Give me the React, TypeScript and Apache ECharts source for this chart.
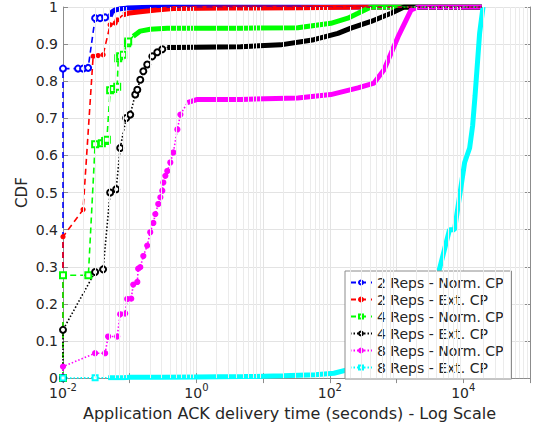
import React, { useEffect, useRef } from "react";
import * as echarts from "echarts";

const FONT = "DejaVu Sans, Liberation Sans, sans-serif";
const TXT = "#262626";

// ---- data ----
const SERIES_NAMES = [
  "2 Reps - Norm. CP",
  "2 Reps - Ext. CP",
  "4 Reps - Norm. CP",
  "4 Reps - Ext. CP",
  "8 Reps - Norm. CP",
  "8 Reps - Ext. CP",
];

const blueX = [0.01, 0.01, 0.0168, 0.02, 0.0238, 0.0303, 0.036, 0.0428, 0.0509, 0.0545, 0.0606, 0.072, 0.09, 0.12, 0.2, 0.4, 1, 19000];
const blueY = [0, 0.834, 0.834, 0.834, 0.836, 0.97, 0.97, 0.972, 0.975, 0.987, 0.992, 0.995, 0.997, 0.998, 0.999, 1, 1, 1];

const redX = [0.01, 0.01, 0.02, 0.0283, 0.0336, 0.0399, 0.0509, 0.0606, 0.0648, 0.0798, 0.1, 0.144, 0.25, 0.45, 3.24, 36.6, 324, 19000];
const redY = [0, 0.381, 0.454, 0.867, 0.869, 0.871, 0.952, 0.957, 0.965, 0.979, 0.984, 0.987, 0.992, 0.996, 0.997, 0.998, 1, 1];

const greenX = [0.01, 0.01, 0.024, 0.0303, 0.0382, 0.0428, 0.0454, 0.0509, 0.0565, 0.0649, 0.0673, 0.072, 0.0798, 0.0917, 0.0949, 0.113, 0.13, 0.144, 0.203, 0.366, 0.812, 4.6, 33, 103.5, 186, 264, 414, 19000];
const greenY = [0, 0.277, 0.277, 0.63, 0.633, 0.639, 0.642, 0.776, 0.779, 0.785, 0.862, 0.867, 0.871, 0.902, 0.907, 0.921, 0.929, 0.935, 0.94, 0.943, 0.943, 0.943, 0.944, 0.956, 0.97, 0.983, 1, 1];

const blackX = [0.01, 0.01, 0.0303, 0.0399, 0.0509, 0.0627, 0.072, 0.0886, 0.1018, 0.121, 0.13, 0.144, 0.16, 0.183, 0.218, 0.259, 0.308, 0.366, 0.5, 4.59, 18.3, 57.5, 132, 207, 414, 826, 1297, 19000];
const blackY = [0, 0.13, 0.286, 0.293, 0.5, 0.509, 0.62, 0.701, 0.71, 0.764, 0.777, 0.804, 0.827, 0.845, 0.867, 0.878, 0.886, 0.891, 0.891, 0.893, 0.898, 0.912, 0.929, 0.943, 0.961, 0.983, 1, 1];

const magX = [0.01, 0.01, 0.0303, 0.0428, 0.0475, 0.0649, 0.072, 0.0855, 0.0917, 0.1054, 0.113, 0.13, 0.134, 0.144, 0.16, 0.183, 0.203, 0.226, 0.242, 0.268, 0.288, 0.308, 0.319, 0.342, 0.366, 0.406, 0.451, 0.518, 0.575, 0.732, 1.035, 4.59, 33, 103.5, 264, 459, 649, 1054, 1652, 2104, 19000];
const magY = [0, 0.031, 0.067, 0.067, 0.112, 0.112, 0.172, 0.174, 0.213, 0.214, 0.252, 0.259, 0.295, 0.299, 0.329, 0.357, 0.393, 0.418, 0.442, 0.469, 0.487, 0.505, 0.527, 0.545, 0.558, 0.581, 0.608, 0.67, 0.71, 0.742, 0.751, 0.751, 0.755, 0.764, 0.782, 0.795, 0.831, 0.92, 0.992, 1, 1];

const cyanX = [0.01, 0.0303, 0.0475, 0.06, 0.08, 0.1, 0.3, 1, 5, 20, 60, 115, 229, 292, 826, 1965, 3300, 4160, 6220, 7400, 10480, 12450, 13800, 15000, 17580, 19770];
const cyanY = [0, 0.001, 0.001, 0.001, 0.001, 0.002, 0.002, 0.003, 0.004, 0.006, 0.009, 0.013, 0.027, 0.035, 0.07, 0.13, 0.2, 0.277, 0.4, 0.4, 0.581, 0.62, 0.68, 0.76, 0.93, 1];

const yTicks = [0, 0.1, 0.2, 0.3, 0.4, 0.5, 0.6, 0.7, 0.8, 0.9, 1];
const decadeExps = [-2, -1, 0, 1, 2, 3, 4];
const minorMult = [2, 3, 4, 5, 6, 7, 8, 9];

const zip = (xs: number[], ys: number[]) => xs.map((x, i) => [x, ys[i]]);

function makeSeries(
  name: string,
  xs: number[],
  ys: number[],
  color: string,
  dash: number[],
  symbol: string,
  symbolSize: number,
  denseFrom: number
) {
  const pts = zip(xs, ys);
  return [
    {
      name: name + " dense",
      type: "line",
      data: pts.filter((p) => p[0] >= denseFrom),
      showSymbol: false,
      symbol: "none",
      lineStyle: { color, width: 5, type: "solid" },
      itemStyle: { color },
      silent: true,
      z: 2,
    },
    {
      name,
      type: "line",
      data: pts.map((p) => (p[0] >= denseFrom ? { value: p, symbol: "none" } : { value: p })),
      symbol,
      symbolSize,
      showAllSymbol: true,
      lineStyle: { color, width: 1.6, type: dash },
      itemStyle: { color, borderColor: color, borderWidth: 1.2 },
      z: 3,
    },
  ];
}

export default function App() {
  const ref = useRef<HTMLDivElement>(null);
  useEffect(() => {
    if (!ref.current) return;
    const chart = echarts.init(ref.current, null, { renderer: "svg" });

    const minorLines: any[] = [];
    decadeExps.forEach((e) =>
      minorMult.forEach((m) => minorLines.push({ xAxis: m * Math.pow(10, e) }))
    );

    const dashed = [6, 4];
    const dotted = [1.5, 2];

    const series: any[] = [
      {
        name: "minor-grid",
        type: "line",
        data: [[0.01, 0]],
        symbol: "none",
        lineStyle: { opacity: 0 },
        silent: true,
        z: 1,
        markLine: {
          silent: true,
          symbol: "none",
          label: { show: false },
          lineStyle: { color: "#ebebeb", width: 1, type: "solid" },
          data: minorLines,
          animation: false,
        },
      },
      ...makeSeries(SERIES_NAMES[0], blueX, blueY, "#0000ff", dashed, "emptyCircle", 6, 0.05),
      ...makeSeries(SERIES_NAMES[1], redX, redY, "#ff0000", dashed, "circle", 4, 0.075),
      ...makeSeries(SERIES_NAMES[2], greenX, greenY, "#00ff00", dashed, "emptyRect", 6, 0.1),
      ...makeSeries(SERIES_NAMES[3], blackX, blackY, "#000000", dotted, "emptyCircle", 6, 0.35),
      ...makeSeries(SERIES_NAMES[4], magX, magY, "#ff00ff", dotted, "circle", 5, 0.7),
      ...makeSeries(SERIES_NAMES[5], cyanX, cyanY, "#00ffff", dotted, "emptyRect", 5, 0.04),
    ];

    const axisLineStyle = { color: "#8c8c8c", width: 1 };

    chart.setOption({
      animation: false,
      backgroundColor: "#ffffff",
      textStyle: { fontFamily: FONT },
      grid: { left: 63, right: 6, top: 7, bottom: 46, containLabel: false },
      legend: {
        data: SERIES_NAMES,
        orient: "vertical",
        left: 345,
        top: 271,
        itemWidth: 22,
        itemHeight: 5,
        itemGap: 0,
        padding: [3, 8, 3, 4],
        backgroundColor: "#ffffff",
        borderColor: "#8c8c8c",
        borderWidth: 1,
        borderRadius: 0,
        selectedMode: false,
        textStyle: {
          fontSize: 14,
          lineHeight: 17,
          color: TXT,
          fontFamily: FONT,
          padding: [0, 0, 0, 0],
        },
      },
      xAxis: [
        {
          type: "log",
          logBase: 10,
          min: 0.01,
          max: 100000,
          name: "Application ACK delivery time (seconds) - Log Scale",
          nameLocation: "middle",
          nameGap: 22,
          nameTextStyle: { fontSize: 16, color: TXT, fontFamily: FONT, padding: [0, 14, 0, 0] },
          axisLine: { show: true, lineStyle: axisLineStyle },
          axisTick: { show: true, inside: true, length: 5, lineStyle: axisLineStyle },
          splitLine: { show: true, lineStyle: { color: "#e3e3e3", width: 1 } },
          axisLabel: {
            margin: 4,
            formatter: (v: number) => {
              const e = Math.round(Math.log10(v));
              return e % 2 === 0 ? `{b|10}{s|${e}}` : "";
            },
            rich: {
              b: { fontSize: 14, color: TXT, fontFamily: FONT, verticalAlign: "bottom", lineHeight: 18 },
              s: { fontSize: 10, color: TXT, fontFamily: FONT, verticalAlign: "top", lineHeight: 18 },
            },
          },
        },
        {
          type: "log",
          logBase: 10,
          min: 0.01,
          max: 100000,
          position: "top",
          axisLine: { show: true, lineStyle: axisLineStyle },
          axisTick: { show: true, inside: true, length: 5, lineStyle: axisLineStyle },
          axisLabel: { show: false },
          splitLine: { show: false },
        },
      ],
      yAxis: [
        {
          type: "value",
          min: 0,
          max: 1,
          interval: 0.1,
          name: "CDF",
          nameLocation: "middle",
          nameGap: 34,
          nameMoveOverlap: false,
          nameTextStyle: { fontSize: 15, color: TXT, fontFamily: FONT },
          axisLine: { show: true, lineStyle: axisLineStyle },
          axisTick: { show: true, inside: true, length: 5, lineStyle: axisLineStyle },
          splitLine: { show: true, lineStyle: { color: "#e3e3e3", width: 1 } },
          axisLabel: {
            fontSize: 14,
            color: TXT,
            fontFamily: FONT,
            margin: 5,
            formatter: (v: number) => {
              const t = yTicks.find((k) => Math.abs(k - v) < 1e-9);
              return t === undefined ? "" : String(t);
            },
          },
        },
        {
          type: "value",
          min: 0,
          max: 1,
          interval: 0.1,
          position: "right",
          axisLine: { show: true, lineStyle: axisLineStyle },
          axisTick: { show: true, inside: true, length: 5, lineStyle: axisLineStyle },
          axisLabel: { show: false },
          splitLine: { show: false },
        },
      ],
      series,
    });

    return () => chart.dispose();
  }, []);

  return (
    <div
      ref={ref}
      style={{ position: "fixed", left: 0, top: 0, width: 536, height: 426, background: "#fff" }}
    />
  );
}
